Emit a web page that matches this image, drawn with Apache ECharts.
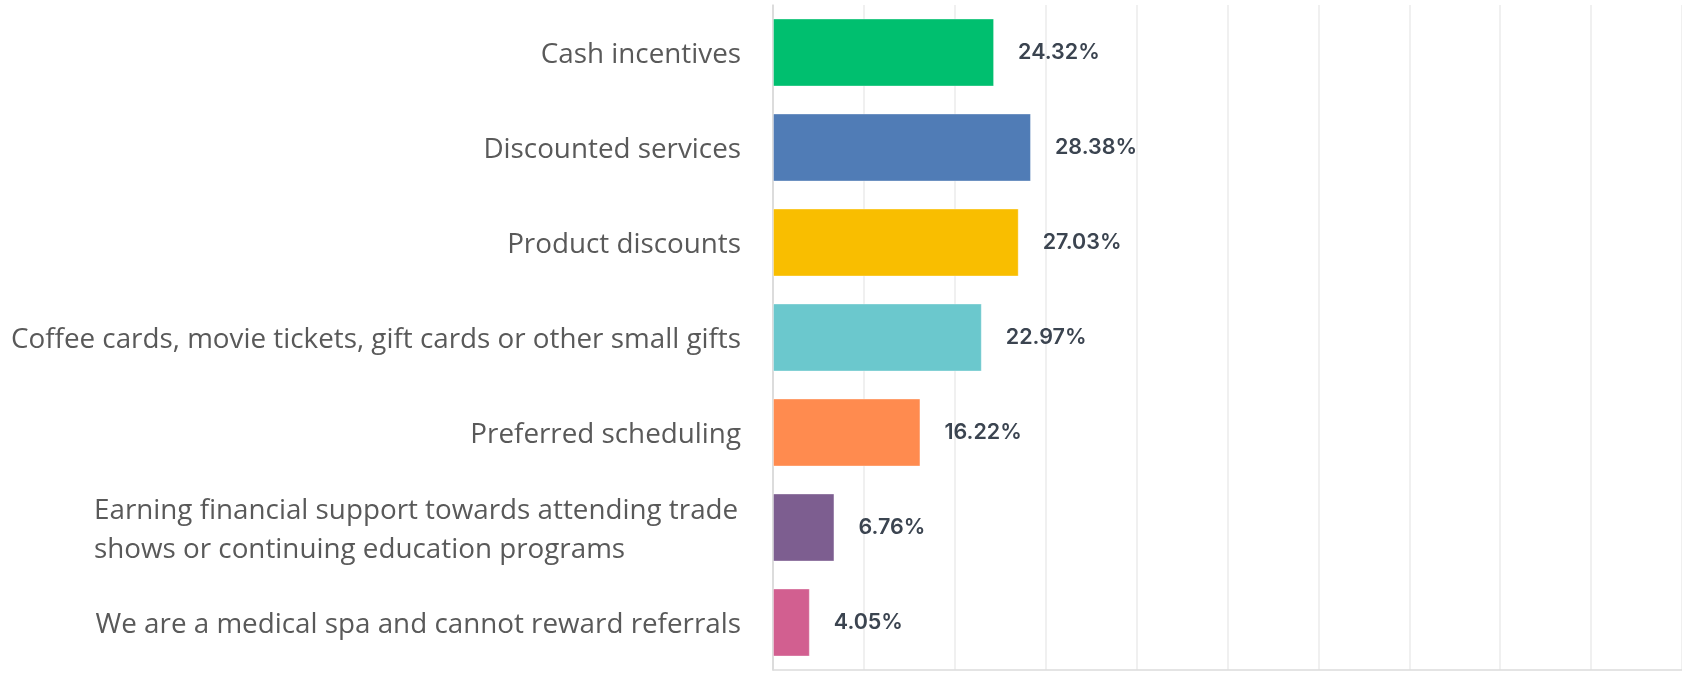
<!DOCTYPE html>
<html>
<head>
<meta charset="utf-8">
<title>Referral rewards</title>
<script src="https://cdn.jsdelivr.net/npm/echarts@6/dist/echarts.min.js"></script>
<style>
  html, body { margin: 0; padding: 0; background: #fff; }
  #chart { width: 1682px; height: 673px; }
</style>
</head>
<body>
<div id="chart"></div>
<script>
// categories, top to bottom
const categories = [
  'Cash incentives',
  'Discounted services',
  'Product discounts',
  'Coffee cards, movie tickets, gift cards or other small gifts',
  'Preferred scheduling',
  'Earning financial support towards attending trade\nshows or continuing education programs',
  'We are a medical spa and cannot reward referrals'
]
const values = [24.32, 28.38, 27.03, 22.97, 16.22, 6.76, 4.05]
const barColors = ['#00bf6f', '#507cb6', '#f9be00', '#6bc8cd', '#ff8b4f', '#7d5e90', '#d25f90']
const axisMax = 100
const axisStep = 10

const labelFont = '"Open Sans", "Noto Sans", sans-serif'
const labelSize = 27.8

// width of the longest line of a multi-line label, so its lines can be left aligned
function lineWidth(text) {
  const ctx = document.createElement('canvas').getContext('2d')
  ctx.font = labelSize + 'px "Open Sans"'
  return Math.max(...text.split('\n').map(l => ctx.measureText(l).width))
}
const multiWidth = Math.ceil(lineWidth(categories[5])) + 2

const chart = echarts.init(document.getElementById('chart'))
const option = {
  animation: false,
  grid: {
    left: 773,
    right: 0,
    top: 5,
    bottom: 3,
    containLabel: false
  },
  xAxis: {
    type: 'value',
    min: 0,
    max: axisMax,
    interval: axisStep,
    axisLabel: { show: false },
    axisTick: { show: false },
    axisLine: { show: true, lineStyle: { color: '#dcdcdc', width: 1.5 } },
    splitLine: { show: true, lineStyle: { color: '#ebebeb', width: 1.5 } }
  },
  yAxis: {
    type: 'category',
    inverse: true,
    data: categories,
    axisTick: { show: false },
    axisLine: { show: true, lineStyle: { color: '#d6d6d6', width: 1.5 } },
    axisLabel: {
      margin: 32,
      padding: [6, 0, 0, 0],
      color: '#595959',
      fontFamily: labelFont,
      fontSize: labelSize,
      lineHeight: 39,
      formatter: function(v) {
        if (v.indexOf('\n') < 0) return v
        return v.split('\n').map(l => '{m|' + l + '}').join('\n')
      },
      rich: {
        m: {
          width: multiWidth,
          align: 'left',
          color: '#595959',
          fontFamily: labelFont,
          fontSize: labelSize,
          lineHeight: 39
        }
      }
    }
  },
  series: [
    {
      type: 'bar',
      barWidth: 68,
      data: values.map((v, i) => ({
        value: v,
        itemStyle: { color: barColors[i], borderColor: 'rgba(255,255,255,0.35)', borderWidth: 1 }
      })),
      label: {
        show: true,
        position: 'right',
        distance: 24,
        color: '#3b4450',
        fontFamily: 'Inter, Roboto, sans-serif',
        fontWeight: 600,
        fontSize: 21.5,
        formatter: p => p.value.toFixed(2) + '%'
      }
    }
  ]
}
chart.setOption(option)
</script>
</body>
</html>
